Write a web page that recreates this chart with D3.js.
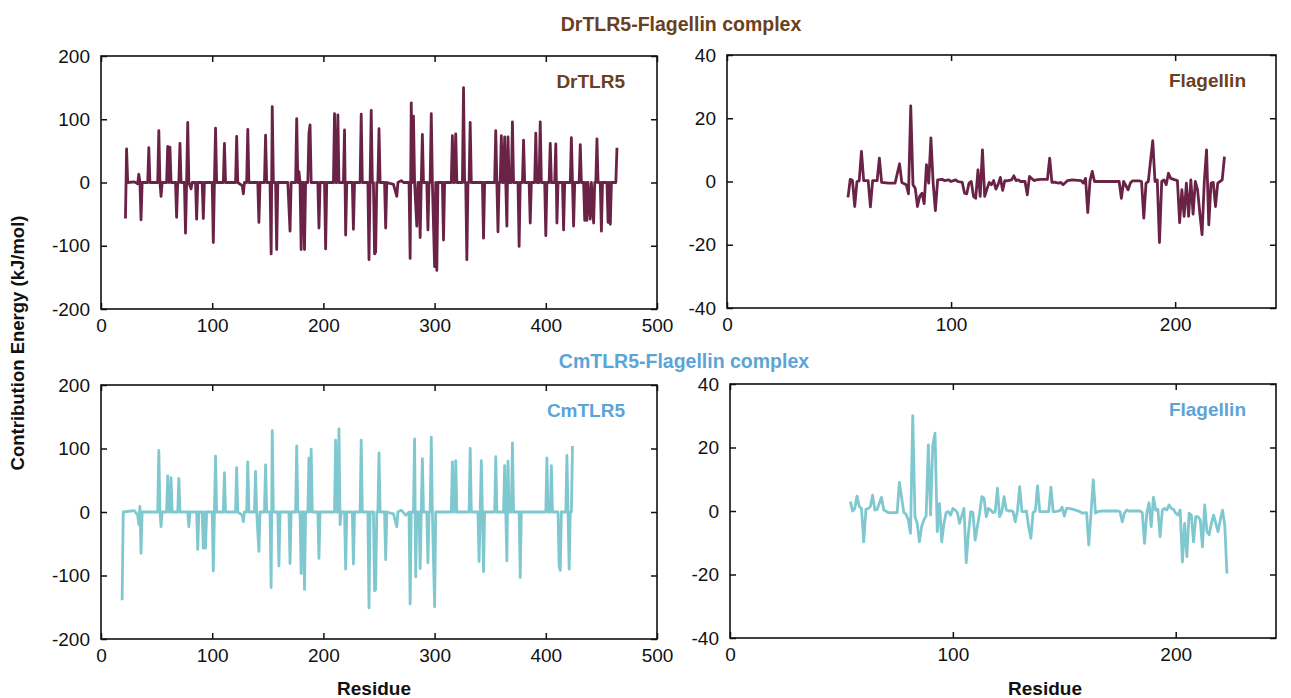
<!DOCTYPE html>
<html>
<head>
<meta charset="utf-8">
<script src="https://cdn.jsdelivr.net/npm/d3@7"></script>
<style>
  body { margin: 0; background: #fff; }
  text { font-family: "Liberation Sans", Arial, sans-serif; }
</style>
</head>
<body>
<div id="chart"></div>
<script>
// residue, contribution energy (kJ/mol)
const drTLR5 = [[22,-57],[23,53],[24,0],[30,1],[33,-2],[34,13],[35,0],[36,-59],[37,0],[42,0],[43,55],[44,0],[51,0],[52,82],[53,0],[54,-22],[55,0],[59,0],[60,57],[61,0],[62,56],[63,0],[67,0],[68,-55],[69,0],[70,0],[71,62],[72,0],[75,0],[76,-80],[77,0],[78,95],[79,0],[81,-10],[82,0],[85,0],[86,-58],[87,0],[91,0],[92,-57],[93,0],[100,0],[101,-95],[102,0],[103,86],[104,0],[110,0],[111,62],[112,0],[121,0],[122,73],[123,0],[127,-5],[128,-18],[129,0],[131,0],[132,84],[133,0],[141,0],[142,-63],[143,0],[147,0],[148,75],[149,0],[152,0],[153,-113],[154,120],[155,0],[157,0],[158,-106],[159,0],[168,0],[170,-77],[171,0],[175,0],[176,101],[177,0],[178,17],[179,0],[180,-106],[181,0],[182,0],[183,-106],[184,0],[186,0],[187,78],[188,91],[189,0],[195,0],[196,-72],[197,0],[201,0],[202,-105],[203,0],[209,0],[210,109],[211,0],[212,0],[213,107],[214,0],[218,0],[219,83],[220,-83],[221,0],[226,0],[227,-74],[228,0],[233,0],[234,108],[235,0],[240,0],[241,-122],[242,0],[243,114],[244,0],[245,0],[246,-113],[247,-110],[248,0],[249,0],[250,85],[251,0],[255,0],[256,-72],[257,0],[263,-3],[266,-22],[267,0],[270,3],[272,0],[277,0],[278,-120],[279,126],[280,0],[281,105],[282,0],[284,-69],[285,0],[286,0],[287,-87],[288,0],[289,76],[290,0],[293,0],[294,-75],[295,0],[296,0],[297,109],[298,0],[300,-133],[301,0],[302,-139],[303,0],[307,0],[308,-91],[309,0],[315,0],[316,74],[317,0],[318,0],[319,77],[320,0],[325,0],[326,150],[327,0],[328,0],[329,-122],[330,0],[331,0],[332,95],[333,0],[343,0],[344,-88],[345,0],[354,0],[355,82],[356,0],[357,-78],[358,0],[359,0],[360,74],[361,0],[362,0],[363,72],[364,0],[365,-69],[366,72],[367,0],[369,0],[370,96],[371,0],[375,0],[376,-101],[377,0],[379,0],[380,67],[381,0],[385,0],[386,-64],[387,0],[390,0],[391,78],[392,0],[394,0],[395,96],[396,0],[399,0],[400,-84],[401,0],[403,0],[404,62],[405,0],[408,0],[409,61],[410,-64],[411,0],[415,0],[416,-75],[417,0],[422,0],[423,71],[424,0],[425,-69],[426,0],[430,0],[431,60],[432,0],[434,0],[435,-60],[436,0],[437,-60],[438,0],[440,-58],[441,0],[443,-64],[444,0],[445,0],[446,69],[447,0],[449,0],[450,-77],[451,0],[455,0],[456,-63],[457,0],[458,-66],[459,0],[463,0],[464,55]];

const drFlagellin = [[54,-5],[55,0.7],[56,0.3],[57,-7.9],[58,0],[59,0.2],[60,9.5],[61,0.3],[63,0.3],[64,-8],[65,0.3],[67,0.3],[68,7.4],[69,-0.3],[72,-0.5],[75,-0.5],[77,5.6],[78,-0.3],[80,-1],[81,-3.9],[82,23.9],[83,-1],[84,-2.1],[85,-7.9],[86,-4.7],[87,-3.7],[88,-7],[89,5.3],[90,-0.5],[91,13.8],[92,-0.5],[93,-9.2],[94,0.5],[96,0.7],[97,0.3],[99,0.5],[100,0],[102,0.5],[103,0],[105,-0.3],[106,-3.7],[107,-3.9],[108,-0.5],[109,0],[110,-4.7],[111,-5.3],[112,3.7],[113,-4.7],[114,10],[115,-4.7],[116,-2.4],[117,-0.3],[118,-1],[119,0.3],[120,-2.4],[121,-0.9],[122,1.3],[123,-2.8],[124,0.3],[125,0.2],[127,0.5],[128,1.8],[129,0.3],[130,0.5],[131,0],[133,0],[134,-4.2],[135,1.6],[137,0.3],[138,0.5],[140,0.7],[142,0.7],[143,0.7],[144,7.4],[145,-0.3],[146,-0.2],[148,-0.5],[149,-0.3],[150,-1],[152,0.3],[154,0.5],[158,0.3],[159,-0.5],[160,1],[161,-9.8],[162,0.3],[163,3.2],[164,0],[166,0],[175,0],[176,-5.3],[177,0],[179,-2.6],[180,-0.5],[181,0.2],[184,0.2],[185,0],[186,-11.6],[187,-0.5],[188,0],[190,12.9],[191,0],[192,0.5],[193,-19.3],[194,0],[195,0.5],[196,-1],[197,2.6],[198,1],[200,0.5],[201,0.3],[202,-13],[203,-2.6],[204,-11],[205,-0.5],[206,-11],[207,0.5],[208,-10.3],[209,0],[210,-2.6],[211,-10],[212,-16.8],[213,0],[214,10],[215,-13.7],[216,-0.5],[217,-0.3],[218,-7.9],[219,-0.5],[220,0],[221,0.5],[222,7.9]];

const cmTLR5 = [[19,-139],[20,0],[30,2],[33,-5],[34,-20],[35,9],[36,-65],[37,0],[51,0],[52,97],[53,0],[54,-23],[55,0],[59,0],[60,57],[61,0],[62,0],[63,54],[64,0],[69,0],[70,53],[71,0],[78,0],[79,-23],[80,0],[86,0],[87,-59],[88,0],[91,0],[92,-57],[93,0],[94,-57],[95,0],[100,0],[101,-93],[102,0],[103,88],[104,0],[110,0],[111,62],[112,0],[121,0],[122,70],[123,0],[127,-5],[128,-15],[129,0],[131,0],[132,79],[133,0],[138,0],[139,64],[140,0],[142,-62],[143,0],[147,0],[148,74],[149,0],[152,0],[153,-119],[154,128],[155,0],[159,0],[160,-85],[161,0],[169,0],[170,-81],[171,0],[175,0],[176,104],[177,0],[179,0],[180,-97],[181,0],[182,0],[183,-122],[184,0],[186,0],[187,85],[188,0],[189,99],[190,0],[195,0],[196,-73],[197,0],[210,0],[211,113],[212,0],[213,0],[214,131],[215,-20],[216,0],[219,0],[220,-90],[221,0],[226,0],[227,-82],[228,0],[233,0],[234,113],[235,0],[240,0],[241,-151],[242,0],[245,0],[246,-124],[247,-122],[248,0],[249,0],[250,93],[251,0],[255,0],[256,-75],[257,0],[263,-3],[266,-23],[267,0],[270,3],[274,-5],[277,0],[278,-145],[279,0],[281,0],[282,115],[283,-102],[284,0],[286,0],[287,-89],[288,0],[289,84],[290,0],[293,0],[294,-80],[295,0],[296,0],[297,118],[298,0],[300,-149],[301,0],[315,0],[316,79],[317,0],[318,0],[319,81],[320,0],[331,0],[332,100],[333,0],[339,0],[340,-78],[341,0],[342,81],[343,0],[344,-94],[345,0],[354,0],[355,87],[356,0],[362,0],[363,73],[364,0],[365,-77],[366,80],[367,0],[369,0],[370,109],[371,0],[376,0],[377,-103],[378,0],[400,0],[401,85],[402,0],[404,0],[405,73],[406,0],[411,0],[412,-85],[413,-92],[414,0],[418,0],[419,89],[420,0],[421,-90],[422,0],[423,0],[424,104]];

const cmFlagellin = [[54,3],[55,0],[56,0.8],[57,4.7],[58,1.4],[59,0.8],[60,-9.7],[61,0.5],[62,0.8],[63,1.4],[64,5],[65,0.3],[66,0.5],[68,4.3],[69,0.3],[71,-0.5],[75,-0.5],[76,9],[78,-0.5],[79,-1],[80,-2.8],[81,-7],[82,30],[83,-1.8],[84,-3.9],[85,-9.7],[86,-4.9],[87,-2.8],[88,-1.6],[89,20.8],[90,-1.3],[91,20.8],[92,24.5],[93,-6.5],[94,2.4],[95,-9.7],[96,-3.9],[97,-0.5],[98,-0.2],[99,-1.3],[100,0.8],[101,0.3],[102,-0.5],[103,-3.9],[105,0.8],[106,-16.3],[107,-7],[108,-0.2],[109,-0.4],[110,-9.2],[111,-4.9],[112,-0.7],[113,4.5],[114,4],[115,-1.8],[116,0.8],[117,0.3],[118,-0.5],[119,-0.2],[120,7.2],[121,-1.8],[122,-0.2],[123,4.5],[124,0.3],[125,0],[126,0.1],[127,-0.2],[128,-3.4],[129,0.1],[130,7.7],[131,-0.2],[132,-0.2],[133,0],[134,-4.9],[135,-8.6],[136,-0.5],[137,0],[138,7.9],[139,-0.2],[140,-0.2],[143,-0.2],[144,7.5],[145,-0.2],[146,-0.2],[148,0.1],[149,1.2],[150,-1.6],[151,0.8],[152,0.8],[154,0.5],[155,0.3],[157,-0.2],[158,-0.7],[160,-0.5],[161,-10.7],[162,-0.7],[163,9.8],[164,-0.7],[165,-0.2],[167,0],[174,0],[175,-0.2],[176,-3.4],[177,-0.7],[178,0.3],[179,0],[184,0],[185,-0.5],[186,-10.2],[187,-0.7],[188,2.6],[189,-4.9],[190,4.3],[191,0.3],[192,0.5],[193,-8.1],[194,0.3],[195,0.8],[196,0.3],[197,1.9],[198,0.8],[199,0.5],[200,-0.7],[201,-1.3],[202,0.3],[203,-16],[204,-3.9],[205,-14.4],[206,-0.7],[207,-1.3],[208,-9.7],[209,-1.8],[210,-1.8],[211,-2.8],[212,-11.3],[213,1.9],[214,-6.5],[215,-7.5],[216,-3.9],[217,-1.3],[218,-3.9],[219,-6.5],[220,-2.8],[221,0.3],[222,-4.5],[223,-19.7]];

const tlrXTicks = [0, 100, 200, 300, 400, 500];
const tlrYTicks = [-200, -100, 0, 100, 200];
const flaXTicks = [0, 100, 200];
const flaYTicks = [-40, -20, 0, 20, 40];

const complexTitles = ["DrTLR5-Flagellin complex", "CmTLR5-Flagellin complex"];
const panelNames = ["DrTLR5", "Flagellin", "CmTLR5", "Flagellin"];

const width = 1291, height = 698;
const brown = "#6b4020", blue = "#5ca3d6";
const maroon = "#6a2346", teal = "#7fc8d0";

const svg = d3.select("#chart").append("svg")
    .attr("width", width)
    .attr("height", height);

const panels = [
  {box: [101, 657, 56, 309], xDom: [0, 500], yDom: [-200, 200], xt: tlrXTicks, yt: tlrYTicks, data: drTLR5, line: maroon, tc: brown, name: panelNames[0]},
  {box: [727, 1276, 55, 308], xDom: [0, 245], yDom: [-40, 40], xt: flaXTicks, yt: flaYTicks, data: drFlagellin, line: maroon, tc: brown, name: panelNames[1]},
  {box: [101, 657, 385, 639], xDom: [0, 500], yDom: [-200, 200], xt: tlrXTicks, yt: tlrYTicks, data: cmTLR5, line: teal, tc: blue, name: panelNames[2]},
  {box: [730, 1276, 384, 638], xDom: [0, 245], yDom: [-40, 40], xt: flaXTicks, yt: flaYTicks, data: cmFlagellin, line: teal, tc: blue, name: panelNames[3]}
];

const fmt = d => String(d); // plain hyphen minus, as in the figure

panels.forEach(p => {
  const [x0, x1, y0, y1] = p.box;
  const x = d3.scaleLinear().domain(p.xDom).range([x0, x1]);
  const y = d3.scaleLinear().domain(p.yDom).range([y1, y0]);
  const g = svg.append("g");

  // data line
  g.append("path")
    .datum(p.data)
    .attr("fill", "none")
    .attr("stroke", p.line)
    .attr("stroke-width", 2.8)
    .attr("stroke-linejoin", "round")
    .attr("d", d3.line().x(d => x(d[0])).y(d => y(d[1])));

  // axes with inward ticks on all sides
  const axes = [
    {ax: d3.axisBottom(x).tickValues(p.xt).tickFormat(fmt).tickPadding(10), t: `translate(0,${y1})`},
    {ax: d3.axisTop(x).tickValues(p.xt).tickFormat(""), t: `translate(0,${y0})`},
    {ax: d3.axisLeft(y).tickValues(p.yt).tickFormat(fmt).tickPadding(11), t: `translate(${x0},0)`},
    {ax: d3.axisRight(y).tickValues(p.yt).tickFormat(""), t: `translate(${x1},0)`}
  ];
  axes.forEach(a => {
    const ag = g.append("g").attr("transform", a.t)
      .call(a.ax.tickSizeInner(-6).tickSizeOuter(0));
    ag.select(".domain").remove();
    ag.selectAll(".tick line").attr("stroke", "#111").attr("stroke-width", 1.5);
    ag.selectAll(".tick text")
      .attr("fill", "#111")
      .style("font-size", "19px")
      .style("font-family", "'Liberation Sans', Arial, sans-serif");
  });

  g.append("rect")
    .attr("x", x0).attr("y", y0)
    .attr("width", x1 - x0).attr("height", y1 - y0)
    .attr("fill", "none")
    .attr("stroke", "#111")
    .attr("stroke-width", 1.6);

  g.append("text")
    .attr("x", x1 - (p.xDom[1] === 500 ? 32 : 30))
    .attr("y", y0 + 32)
    .attr("text-anchor", "end")
    .attr("fill", p.tc)
    .style("font-weight", "bold")
    .style("font-size", "19px")
    .text(p.name);
});

svg.append("text")
  .attr("x", 681).attr("y", 31)
  .attr("text-anchor", "middle")
  .attr("fill", brown)
  .style("font-weight", "bold").style("font-size", "19.5px")
  .text(complexTitles[0]);

svg.append("text")
  .attr("x", 684).attr("y", 368)
  .attr("text-anchor", "middle")
  .attr("fill", blue)
  .style("font-weight", "bold").style("font-size", "19.5px")
  .text(complexTitles[1]);

svg.append("text")
  .attr("transform", "translate(24,343) rotate(-90)")
  .attr("text-anchor", "middle")
  .attr("fill", "#111")
  .style("font-weight", "bold").style("font-size", "18.5px")
  .text("Contribution Energy (kJ/mol)");

[374, 1045].forEach(cx => {
  svg.append("text")
    .attr("x", cx).attr("y", 695)
    .attr("text-anchor", "middle")
    .attr("fill", "#111")
    .style("font-weight", "bold").style("font-size", "19px")
    .text("Residue");
});
</script>
</body>
</html>
